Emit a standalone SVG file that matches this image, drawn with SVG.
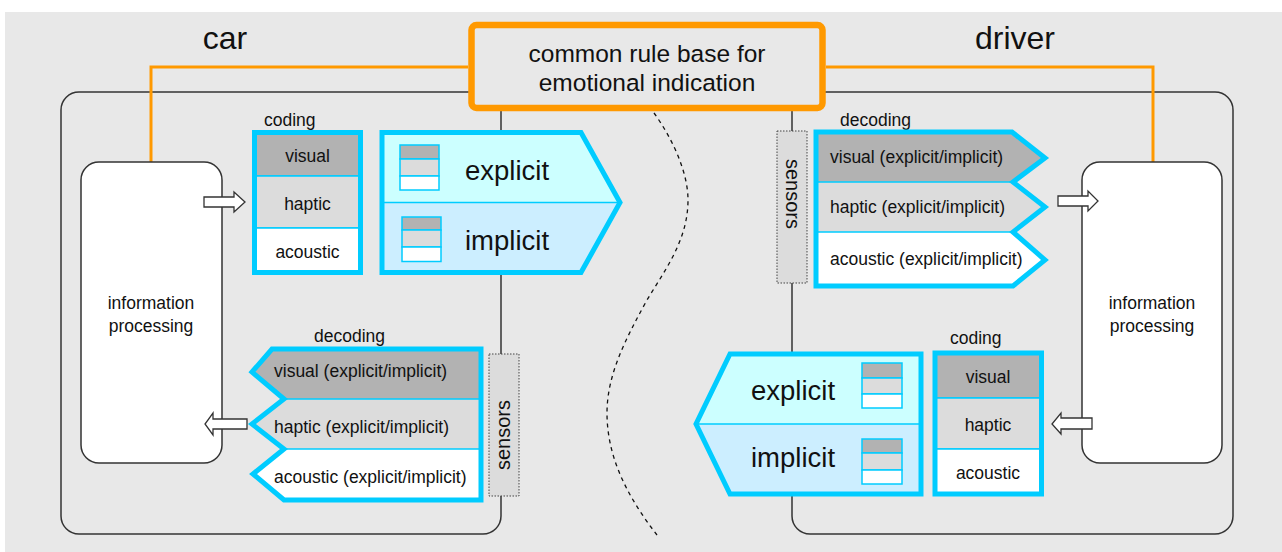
<svg xmlns="http://www.w3.org/2000/svg" width="1282" height="552" viewBox="0 0 1282 552">
  <style>
    text { font-family: "Liberation Sans", Arial, sans-serif; fill: #111; }
    .title { font-size: 32px; text-anchor: middle; }
    .rule { font-size: 24.5px; text-anchor: middle; }
    .lbl { font-size: 17.5px; }
    .mid { text-anchor: middle; }
    .big { font-size: 27.5px; }
    .frame { fill: none; stroke: #333; stroke-width: 1.5; }
    .proc { fill: #fff; stroke: #333; stroke-width: 1.5; }
    .orange { fill: none; stroke: #ff9900; stroke-width: 3; }
    .cyan-thick { fill: none; stroke: #00ccff; stroke-width: 5; stroke-linejoin: miter; stroke-miterlimit: 10; }
    .cyan-thin { stroke: #00ccff; stroke-width: 1.5; }
    .dark { fill: #b2b2b2; }
    .light { fill: #dcdcdc; }
    .white { fill: #ffffff; }
    .expl { fill: #ccffff; }
    .impl { fill: #cceeff; }
    .sensor { fill: #dcdcdc; stroke: #444; stroke-width: 1; stroke-dasharray: 1.5 1.5; }
    .arrow { fill: #fff; stroke: #333; stroke-width: 1.3; }
    .icon-cell { stroke: #00ccff; stroke-width: 1.5; }
  </style>

  <!-- canvas -->
  <rect x="0" y="0" width="1282" height="552" fill="#ffffff"/>
  <rect x="5" y="12" width="1277" height="540" fill="#e8e8e8"/>

  <!-- side frames -->
  <g id="car-frame">
    <rect class="frame" x="61" y="92" width="440" height="442" rx="18"/>
    <text class="title" x="225" y="49">car</text>
  </g>
  <g id="driver-frame">
    <rect class="frame" x="792" y="92" width="441" height="442" rx="18"/>
    <text class="title" x="1015" y="49">driver</text>
  </g>

  <!-- boundary between car and driver, and links to the rule base -->
  <g id="connectors">
    <path d="M654,113 C670,135 688,170 688,200 C688,240 665,270 647,300 C625,340 607,375 607,413 C607,460 630,500 657,535" fill="none" stroke="#111" stroke-width="1.3" stroke-dasharray="4 4"/>
    <polyline class="orange" points="468,67 151,67 151,162"/>
    <polyline class="orange" points="826,67 1153,67 1153,162"/>
  </g>

  <!-- common rule base -->
  <g id="rule-base">
    <rect x="471.5" y="25" width="351" height="83" rx="5" fill="#e8e8e8" stroke="#ff9900" stroke-width="6.5"/>
    <text class="rule" x="647" y="62">common rule base for</text>
    <text class="rule" x="647" y="91">emotional indication</text>
  </g>

  <!-- information processing -->
  <g id="car-processing">
    <rect class="proc" x="81" y="162" width="141" height="301" rx="18"/>
    <text class="lbl mid" x="151" y="309">information</text>
    <text class="lbl mid" x="151" y="332">processing</text>
  </g>
  <g id="driver-processing">
    <rect class="proc" x="1082" y="162" width="140" height="301" rx="18"/>
    <text class="lbl mid" x="1152" y="309">information</text>
    <text class="lbl mid" x="1152" y="332">processing</text>
  </g>

  <!-- sensors -->
  <g id="car-sensors">
    <rect class="sensor" x="489" y="354" width="30" height="142"/>
    <text class="mid" font-size="20" transform="translate(510,435) rotate(-90)">sensors</text>
  </g>
  <g id="driver-sensors">
    <rect class="sensor" x="777" y="131" width="30" height="152"/>
    <text class="mid" font-size="20" transform="translate(786,194) rotate(90)">sensors</text>
  </g>

  <!-- car coding -->
  <g id="car-coding">
    <text class="lbl" x="264" y="126">coding</text>
    <rect class="dark cyan-thin" x="254.5" y="132.5" width="106" height="43.5"/>
    <rect class="light cyan-thin" x="254.5" y="176" width="106" height="52"/>
    <rect class="white cyan-thin" x="254.5" y="228" width="106" height="44.5"/>
    <rect class="cyan-thick" x="254.5" y="132.5" width="106" height="140"/>
    <text class="lbl mid" x="307.5" y="162">visual</text>
    <text class="lbl mid" x="307.5" y="210">haptic</text>
    <text class="lbl mid" x="307.5" y="258">acoustic</text>
  </g>

  <!-- car explicit / implicit -->
  <g id="car-signal">
    <polygon class="expl" points="382,132.5 581,132.5 620,202.5 382,202.5"/>
    <polygon class="impl" points="382,202.5 620,202.5 581,272.5 382,272.5"/>
    <line class="cyan-thin" x1="382" y1="202.5" x2="620" y2="202.5"/>
    <polygon class="cyan-thick" points="382,132.5 581,132.5 620,202.5 581,272.5 382,272.5"/>
    <rect class="dark icon-cell" x="400" y="145" width="39" height="14"/>
    <rect class="light icon-cell" x="400" y="159" width="39" height="17"/>
    <rect class="white icon-cell" x="400" y="176" width="39" height="14"/>
    <rect class="dark icon-cell" x="402" y="217" width="39" height="13"/>
    <rect class="light icon-cell" x="402" y="230" width="39" height="17"/>
    <rect class="white icon-cell" x="402" y="247" width="39" height="14.5"/>
    <text class="big" x="465" y="180">explicit</text>
    <text class="big" x="465" y="250">implicit</text>
  </g>

  <!-- car decoding -->
  <g id="car-decoding">
    <text class="lbl" x="314" y="342">decoding</text>
    <polygon class="dark" points="272,349 481,349 481,399 284,399 252,372"/>
    <polygon class="light" points="284,399 481,399 481,449 284,449 252,424"/>
    <polygon class="white" points="284,449 481,449 481,500 284,500 253,474"/>
    <line class="cyan-thin" x1="284" y1="399" x2="481" y2="399"/>
    <line class="cyan-thin" x1="284" y1="449" x2="481" y2="449"/>
    <path class="cyan-thick" d="M272,349 L481,349 L481,500 L284,500 L253,474 L284,449 L252,424 L284,399 L252,372 Z"/>
    <text class="lbl" x="274" y="377">visual (explicit/implicit)</text>
    <text class="lbl" x="274" y="433">haptic (explicit/implicit)</text>
    <text class="lbl" x="274" y="483">acoustic (explicit/implicit)</text>
  </g>

  <!-- driver decoding -->
  <g id="driver-decoding">
    <text class="lbl" x="840" y="126">decoding</text>
    <polygon class="dark" points="816,132 1012,132 1045,158 1013,182 816,182"/>
    <polygon class="light" points="816,182 1013,182 1045,207 1013,232 816,232"/>
    <polygon class="white" points="816,232 1013,232 1045,260 1013,286 816,286"/>
    <line class="cyan-thin" x1="816" y1="182" x2="1013" y2="182"/>
    <line class="cyan-thin" x1="816" y1="232" x2="1013" y2="232"/>
    <path class="cyan-thick" d="M816,132 L1012,132 L1045,158 L1013,182 L1045,207 L1013,232 L1045,260 L1013,286 L816,286 Z"/>
    <text class="lbl" x="830" y="163">visual (explicit/implicit)</text>
    <text class="lbl" x="830" y="213">haptic (explicit/implicit)</text>
    <text class="lbl" x="830" y="265">acoustic (explicit/implicit)</text>
  </g>

  <!-- driver explicit / implicit -->
  <g id="driver-signal">
    <polygon class="expl" points="921,354 730,354 696,424 921,424"/>
    <polygon class="impl" points="921,424 696,424 730,494 921,494"/>
    <line class="cyan-thin" x1="696" y1="424" x2="921" y2="424"/>
    <polygon class="cyan-thick" points="921,354 730,354 696,424 730,494 921,494"/>
    <rect class="dark icon-cell" x="862" y="363" width="40" height="15"/>
    <rect class="light icon-cell" x="862" y="378" width="40" height="16"/>
    <rect class="white icon-cell" x="862" y="394" width="40" height="14"/>
    <rect class="dark icon-cell" x="862" y="439" width="40" height="14"/>
    <rect class="light icon-cell" x="862" y="453" width="40" height="17"/>
    <rect class="white icon-cell" x="862" y="470" width="40" height="14"/>
    <text class="big" x="751" y="400">explicit</text>
    <text class="big" x="751" y="467">implicit</text>
  </g>

  <!-- driver coding -->
  <g id="driver-coding">
    <text class="lbl" x="950" y="344">coding</text>
    <rect class="dark cyan-thin" x="935" y="353" width="106.5" height="45"/>
    <rect class="light cyan-thin" x="935" y="398" width="106.5" height="51"/>
    <rect class="white cyan-thin" x="935" y="449" width="106.5" height="45"/>
    <rect class="cyan-thick" x="935" y="353" width="106.5" height="141"/>
    <text class="lbl mid" x="988" y="383">visual</text>
    <text class="lbl mid" x="988" y="431">haptic</text>
    <text class="lbl mid" x="988" y="479">acoustic</text>
  </g>

  <!-- hand-over arrows -->
  <g id="arrows">
    <polygon class="arrow" points="204,197 234,197 234,192 245,202 234,212 234,207 204,207"/>
    <polygon class="arrow" points="247,419 213,419 213,413 205,424 213,435 213,429 247,429"/>
    <polygon class="arrow" points="1058,196 1088,196 1088,191 1098,201 1088,211 1088,206 1058,206"/>
    <polygon class="arrow" points="1092,418 1061,418 1061,413 1052,424 1061,434 1061,429 1092,429"/>
  </g>
</svg>
